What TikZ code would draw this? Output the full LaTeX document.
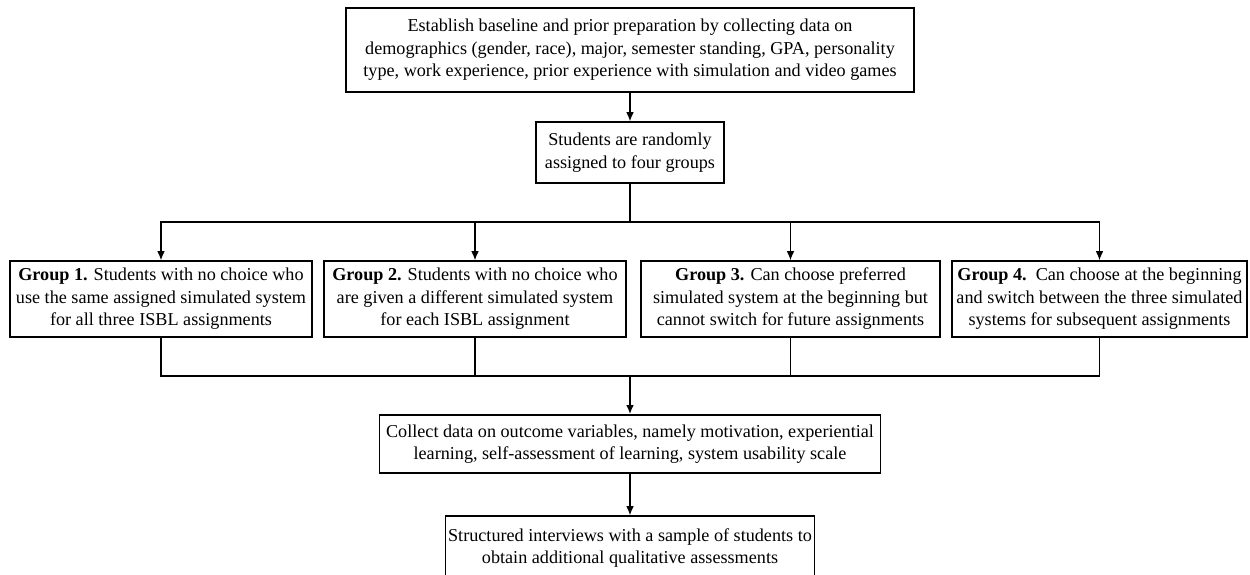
\documentclass[tikz,border=0pt]{standalone}
\usepackage{fontspec}
\setmainfont{Liberation Serif}
\usetikzlibrary{arrows.meta}
\begin{document}
\begin{tikzpicture}[x=0.6pt,y=-0.6pt,
  box/.style={draw,line width=0.9pt,inner sep=0pt,align=center,
    font=\fontsize{10.9}{13.5}\selectfont},
  conn/.style={line width=0.7pt},
  arr/.style={line width=0.7pt,-{Latex[length=5.5pt,width=4.6pt]}},
  thickarr/.style={line width=1.2pt,-{Latex[length=5.5pt,width=4.6pt]}}]
\useasboundingbox (0,0) rectangle (1250,574);
\fill[white] (0,0) rectangle (1250,574);
\node[box,minimum width={568*0.6pt},minimum height={84*0.6pt}] (base) at (630,50)
  {Establish baseline and prior preparation by collecting data on\\
   demographics (gender, race), major, semester standing, GPA, personality\\
   type, work experience, prior experience with simulation and video games};
\node[box,minimum width={188*0.6pt},minimum height={61*0.6pt}] (rand) at (630,152.5)
  {Students are randomly\\assigned to four groups};
\node[box,minimum width={302*0.6pt},minimum height={76*0.6pt}] (g1) at (161,299)
  {\textbf{Group 1.} Students with no choice who\\use the same assigned simulated system\\for all three ISBL assignments};
\node[box,minimum width={302*0.6pt},minimum height={76*0.6pt}] (g2) at (475,299)
  {\textbf{Group 2.} Students with no choice who\\are given a different simulated system\\for each ISBL assignment};
\node[box,minimum width={299*0.6pt},minimum height={76*0.6pt}] (g3) at (790.5,299)
  {\textbf{Group 3.} Can choose preferred\\simulated system at the beginning but\\cannot switch for future assignments};
\node[box,minimum width={295*0.6pt},minimum height={76*0.6pt}] (g4) at (1099.5,299)
  {\textbf{Group 4.}\ \ Can choose at the beginning\\and switch between the three simulated\\systems for subsequent assignments};
\node[box,minimum width={501*0.6pt},minimum height={58*0.6pt}] (coll) at (630,444)
  {Collect data on outcome variables, namely motivation, experiential\\learning, self-assessment of learning, system usability scale};
\node[box,minimum width={369*0.6pt},minimum height={64*0.6pt}] (intv) at (630,548)
  {Structured interviews with a sample of students to\\obtain additional qualitative assessments};
\coordinate (busA) at (630,222);
\coordinate (busB) at (630,376);
\draw[arr] (base.south) -- (rand.north);
\draw[line width=1.2pt] (rand.south) -- (busA);
\draw[arr] (busA) -| (g1.north);
\draw[arr] (busA) -| (g2.north);
\draw[arr] (busA) -| (g3.north);
\draw[arr] (busA) -| (g4.north);
\draw[conn] (g1.south) |- (busB);
\draw[conn] (g2.south) |- (busB);
\draw[conn] (g3.south) |- (busB);
\draw[conn] (g4.south) |- (busB);
\draw[thickarr] (busB) -- (coll.north);
\draw[arr] (coll.south) -- (intv.north);
\end{tikzpicture}
\end{document}
